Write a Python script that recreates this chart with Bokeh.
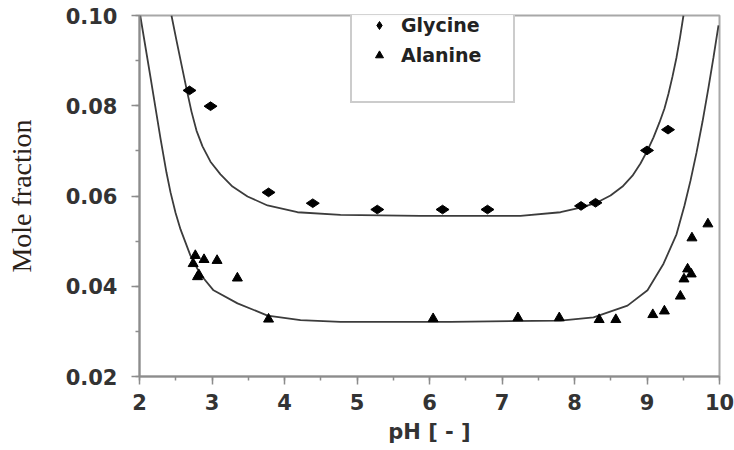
import numpy as np
from bokeh.plotting import figure
from bokeh.models import (Range1d, SingleIntervalTicker, Legend, LegendItem,
                          PrintfTickFormatter)
from bokeh.embed import file_html
from bokeh.resources import INLINE

# Glycine measured points
gly_ph = [2.69, 2.98, 3.78, 4.39, 5.28, 6.18, 6.80, 8.09, 8.29, 9.00, 9.29]
gly_x = [0.0834, 0.0799, 0.0608, 0.0584, 0.0570, 0.0570, 0.0570, 0.0578, 0.0585, 0.0701, 0.0747]

# Alanine measured points
ala_ph = [2.74, 2.77, 2.80, 2.82, 2.89, 3.07, 3.35, 3.78, 6.05, 7.22, 7.79, 8.34, 8.57,
          9.08, 9.24, 9.46, 9.51, 9.56, 9.61, 9.62, 9.84]
ala_x = [0.0450, 0.0468, 0.0421, 0.0425, 0.0459, 0.0457, 0.0418, 0.0327, 0.0328, 0.0330,
         0.0330, 0.0326, 0.0326, 0.0337, 0.0345, 0.0378, 0.0416, 0.0438, 0.0427, 0.0507, 0.0538]

# Model curves
gly_fit_ph = [2.441, 2.510, 2.579, 2.648, 2.717, 2.786, 2.869, 2.979, 3.117, 3.283,
              3.490, 3.766, 4.179, 4.772, 5.876, 7.255, 7.807, 8.083, 8.290, 8.497,
              8.662, 8.800, 8.910, 9.007, 9.090, 9.172, 9.241, 9.297, 9.352, 9.407,
              9.455, 9.503]
gly_fit_x = [0.1000, 0.0945, 0.0891, 0.0838, 0.0787, 0.0745, 0.0710, 0.0676, 0.0648,
             0.0621, 0.0599, 0.0579, 0.0564, 0.0558, 0.0556, 0.0556, 0.0564, 0.0574,
             0.0584, 0.0601, 0.0621, 0.0645, 0.0672, 0.0701, 0.0730, 0.0763, 0.0794,
             0.0827, 0.0865, 0.0907, 0.0951, 0.1000]

ala_fit_ph = [2.010, 2.152, 2.290, 2.372, 2.428, 2.497, 2.566, 2.703, 2.841, 3.021,
              3.352, 3.766, 4.221, 4.772, 6.290, 7.807, 8.262, 8.731, 9.007, 9.228,
              9.407, 9.517, 9.600, 9.683, 9.766, 9.848, 9.917, 9.986]
ala_fit_x = [0.1000, 0.0863, 0.0727, 0.0652, 0.0608, 0.0563, 0.0526, 0.0468, 0.0426,
             0.0391, 0.0362, 0.0335, 0.0325, 0.0321, 0.0321, 0.0324, 0.0331, 0.0357,
             0.0391, 0.0450, 0.0515, 0.0579, 0.0634, 0.0696, 0.0765, 0.0840, 0.0907,
             0.0978]

x_ticks_interval = 1
y_ticks_interval = 0.02

p = figure(width=734, height=450, output_backend="svg", toolbar_location=None,
           x_range=Range1d(2, 10), y_range=Range1d(0.02, 0.10),
           min_border_left=139, min_border_right=15, min_border_top=15,
           min_border_bottom=74)
p.background_fill_color = "white"
p.border_fill_color = "white"
p.grid.visible = False
p.outline_line_color = "#a8a8a8"
p.outline_line_width = 2

tick_font = "DejaVu Sans"
for ax in (p.xaxis[0], p.yaxis[0]):
    ax.axis_line_color = "#8c8c8c"
    ax.axis_line_width = 2
    ax.major_tick_line_color = "#8c8c8c"
    ax.minor_tick_line_color = "#8c8c8c"
    ax.major_tick_line_width = 1.5
    ax.minor_tick_line_width = 1.5
    ax.major_tick_in = 0
    ax.minor_tick_in = 0
    ax.major_tick_out = 8
    ax.minor_tick_out = 4
    ax.major_label_text_font = tick_font
    ax.major_label_text_font_style = "bold"
    ax.major_label_text_font_size = "21px"
    ax.major_label_text_color = "#333333"

p.xaxis.ticker = SingleIntervalTicker(interval=x_ticks_interval, num_minor_ticks=2)
p.yaxis.ticker = SingleIntervalTicker(interval=y_ticks_interval, num_minor_ticks=2)
p.yaxis.formatter = PrintfTickFormatter(format="%.2f")
p.xaxis.major_label_standoff = 9
p.yaxis.major_label_standoff = 14

p.xaxis.axis_label = "pH [ - ]"
p.xaxis.axis_label_text_font = tick_font
p.xaxis.axis_label_text_font_style = "bold"
p.xaxis.axis_label_text_font_size = "21px"
p.xaxis.axis_label_text_color = "#333333"
p.xaxis.axis_label_standoff = 7

p.yaxis.axis_label = "Mole fraction"
p.yaxis.axis_label_text_font = "Liberation Serif"
p.yaxis.axis_label_text_font_style = "normal"
p.yaxis.axis_label_text_font_size = "28px"
p.yaxis.axis_label_text_color = "#2b2118"
p.yaxis.axis_label_standoff = 26

p.line(gly_fit_ph, gly_fit_x, line_color="#3c3c3c", line_width=1.8)
p.line(ala_fit_ph, ala_fit_x, line_color="#3c3c3c", line_width=1.8)

r_gly = p.scatter(gly_ph, gly_x, marker="diamond", size=13, angle=np.pi / 2,
                  fill_color="black", line_color="black")
r_ala = p.scatter(ala_ph, ala_x, marker="triangle", size=10,
                  fill_color="black", line_color="black")
r_blank = p.scatter([], [], marker="circle", size=1, fill_alpha=0, line_alpha=0)

legend = Legend(items=[LegendItem(label="Glycine", renderers=[r_gly]),
                       LegendItem(label="Alanine", renderers=[r_ala]),
                       LegendItem(label=" ", renderers=[r_blank])],
                location=(211, 273))
legend.border_line_color = "#999999"
legend.border_line_width = 2
legend.background_fill_color = "white"
legend.padding = 7
legend.spacing = 8
legend.glyph_width = 40
legend.glyph_height = 20
legend.label_height = 20
legend.label_width = 105
legend.label_standoff = 2
legend.label_text_font = tick_font
legend.label_text_font_style = "bold"
legend.label_text_font_size = "19px"
legend.label_text_color = "#222222"
legend.margin = 0
p.add_layout(legend, "center")

open("out.html", "w").write(file_html(p, INLINE))
